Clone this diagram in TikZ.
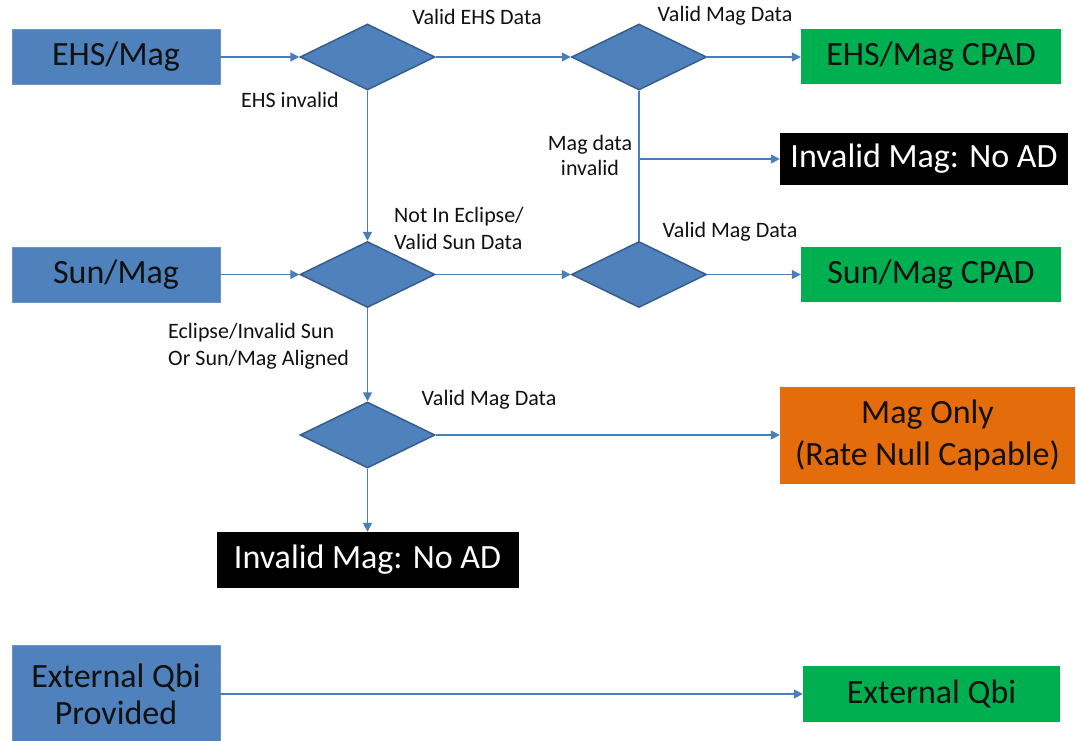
\documentclass[tikz,border=0pt]{standalone}
\usepackage{fontspec}
\setmainfont{Carlito}
\usetikzlibrary{shapes.geometric,arrows.meta}
\definecolor{boxblue}{HTML}{4F81BD}
\definecolor{edgeblue}{HTML}{385D8A}
\definecolor{lineblue}{HTML}{4A7EBB}
\definecolor{cpadgreen}{HTML}{00B050}
\definecolor{rateorange}{HTML}{E46C0A}
\definecolor{textdark}{HTML}{111111}

\begin{document}
\begin{tikzpicture}[x=1pt,y=-1pt,
    flow/.style={-{Triangle[length=9pt,width=9pt]},line width=1.6pt,draw=lineblue},
    plain line/.style={line width=1.6pt,draw=lineblue},
    decision/.style={diamond,fill=boxblue,draw=edgeblue,line width=1.5pt,minimum width=135pt,minimum height=66pt,inner sep=0pt},
    big box/.style={rectangle,inner sep=2pt,align=center,font=\fontsize{34}{38}\selectfont},
    src node/.style={big box,fill=boxblue,draw=boxblue!85!white,text=textdark,minimum width=208pt,minimum height=55pt},
    cpad node/.style={big box,fill=cpadgreen,text=textdark,minimum width=260pt,minimum height=55pt},
    nomag node/.style={big box,fill=black,text=white},
    lbl/.style={font=\fontsize{22}{27}\selectfont,text=textdark,inner sep=0pt}]

\useasboundingbox (0,0) rectangle (1076,741);

% sources
\node[src node] (ehs) at (116,57) {EHS/Mag};
\node[src node] (sun) at (116,274.5) {Sun/Mag};
\node[src node,minimum height=98pt,font=\fontsize{34}{37}\selectfont] (ext) at (116,694) {External Qbi\\Provided};

% decisions
\node[decision] (d1) at (367.5,57) {};
\node[decision] (d2) at (367.5,274.5) {};
\node[decision] (d5) at (367.5,435) {};
\node[decision] (d3) at (639,57) {};
\node[decision] (d4) at (639,274.5) {};

% results
\node[cpad node] (cpad1) at (931,57) {EHS/Mag CPAD};
\node[cpad node] (cpad2) at (931,274.5) {Sun/Mag CPAD};
\node[nomag node,minimum width=288pt,minimum height=52pt] (nomag1) at (924,159) {Invalid Mag: No AD};
\node[nomag node,minimum width=302pt,minimum height=56pt] (nomag2) at (367.5,560) {Invalid Mag: No AD};
\node[big box,fill=rateorange,text=textdark,minimum width=295pt,minimum height=97pt,font=\fontsize{34}{42}\selectfont] (magonly) at (927.5,435) {Mag Only\\(Rate Null Capable)};
\node[cpad node,minimum width=257pt,minimum height=56pt] (extqbi) at (931.5,694) {External Qbi};

% labels
\node[lbl] (lehs) at (477,17) {Valid EHS Data};
\node[lbl] (lmag1) at (725,16) {Valid Mag Data};
\node[lbl] (lehsinv) at (290,100) {EHS invalid};
\node[lbl,align=center,font=\fontsize{22}{25}\selectfont] (lmaginv) at (590,155) {Mag data\\invalid};
\node[lbl,align=left,anchor=west] (lsun) at (394,228) {Not In Eclipse/\\Valid Sun Data};
\node[lbl] (lmag2) at (730,232) {Valid Mag Data};
\node[lbl,align=left,anchor=west] (lecl) at (168,346) {Eclipse/Invalid Sun\\Or Sun/Mag Aligned};
\node[lbl] (lmag3) at (489,400) {Valid Mag Data};

\coordinate (split) at (639,159);

\draw[flow] (ehs.east) -- (d1.west);
\draw[flow] (d1.east) -- (d3.west);
\draw[flow] (d3.east) -- (cpad1.west);
\draw[flow] (d1.south) -- (d2.north);
\draw[plain line] (d3.south) -- (d4.north);
\draw[flow] (split) -- (nomag1.west);
\draw[flow] (sun.east) -- (d2.west);
\draw[flow] (d2.east) -- (d4.west);
\draw[flow] (d4.east) -- (cpad2.west);
\draw[flow] (d2.south) -- (d5.north);
\draw[flow] (d5.east) -- (magonly.west);
\draw[flow] (d5.south) -- (nomag2.north);
\draw[flow] (ext.east) -- (extqbi.west);

\end{tikzpicture}
\end{document}
